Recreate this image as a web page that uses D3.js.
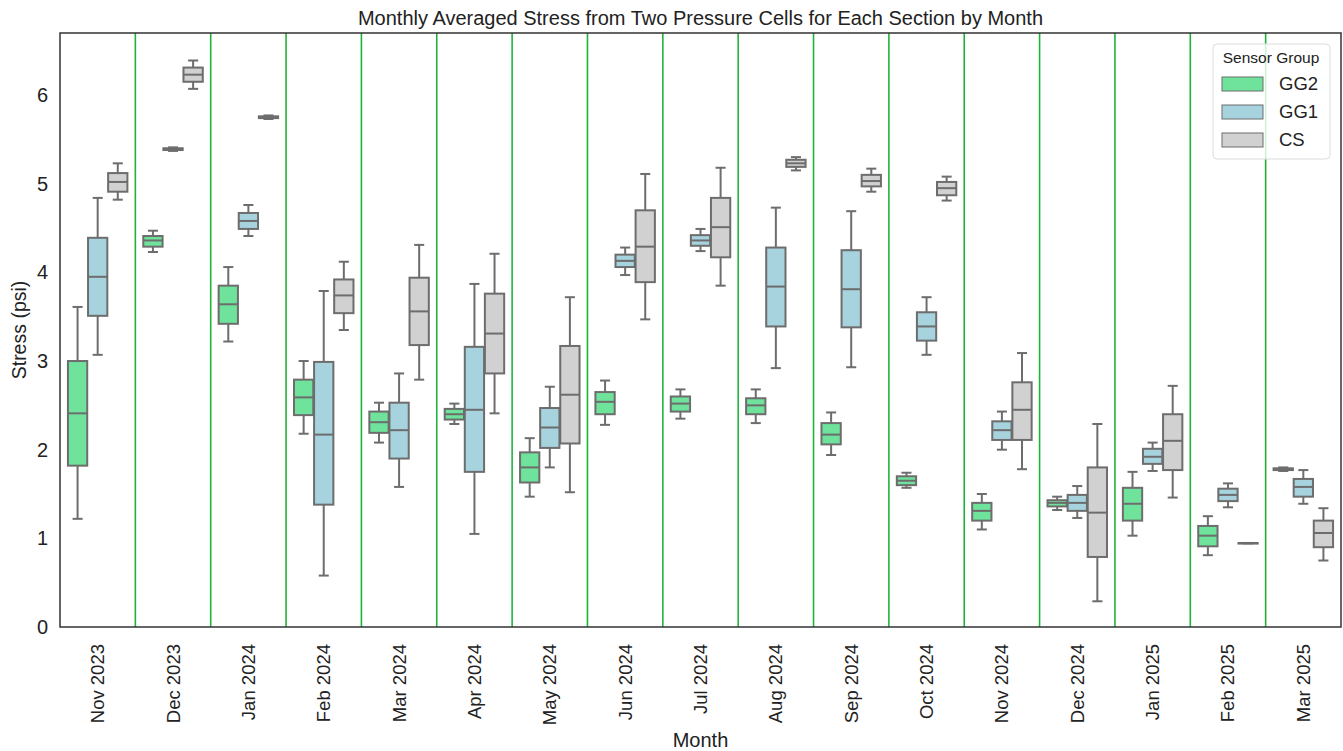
<!DOCTYPE html>
<html>
<head>
<meta charset="utf-8">
<script src="https://cdn.jsdelivr.net/npm/d3@7"></script>
<style>
  body { margin: 0; background: #fff; }
  text { font-family: "Liberation Sans", Arial, sans-serif; fill: #222; }
</style>
</head>
<body>
<div id="chart"></div>
<script>
// months on the x axis
const months = ["Nov 2023", "Dec 2023", "Jan 2024", "Feb 2024", "Mar 2024", "Apr 2024",
  "May 2024", "Jun 2024", "Jul 2024", "Aug 2024", "Sep 2024", "Oct 2024",
  "Nov 2024", "Dec 2024", "Jan 2025", "Feb 2025", "Mar 2025"];

const groups = ["GG2", "GG1", "CS"];

// [lower whisker, q1, median, q3, upper whisker] per month
const gg2Stats = [
  [1.22, 1.82, 2.41, 3.00, 3.61],
  [4.23, 4.29, 4.36, 4.41, 4.47],
  [3.22, 3.42, 3.64, 3.85, 4.06],
  [2.18, 2.39, 2.59, 2.79, 3.00],
  [2.08, 2.19, 2.31, 2.43, 2.53],
  [2.29, 2.34, 2.40, 2.46, 2.52],
  [1.47, 1.63, 1.80, 1.97, 2.13],
  [2.28, 2.40, 2.54, 2.65, 2.78],
  [2.35, 2.43, 2.52, 2.60, 2.68],
  [2.30, 2.40, 2.50, 2.58, 2.68],
  [1.94, 2.06, 2.17, 2.30, 2.42],
  [1.57, 1.60, 1.65, 1.70, 1.74],
  [1.10, 1.20, 1.31, 1.40, 1.50],
  [1.32, 1.36, 1.40, 1.43, 1.47],
  [1.03, 1.20, 1.39, 1.57, 1.75],
  [0.81, 0.91, 1.03, 1.14, 1.25],
  [1.76, 1.77, 1.78, 1.79, 1.80]
];

const gg1Stats = [
  [3.07, 3.51, 3.95, 4.39, 4.84],
  [5.37, 5.38, 5.39, 5.40, 5.41],
  [4.41, 4.49, 4.58, 4.67, 4.76],
  [0.58, 1.38, 2.17, 2.99, 3.79],
  [1.58, 1.90, 2.22, 2.53, 2.86],
  [1.05, 1.75, 2.45, 3.16, 3.87],
  [1.80, 2.02, 2.25, 2.47, 2.71],
  [3.97, 4.06, 4.13, 4.20, 4.28],
  [4.24, 4.30, 4.36, 4.42, 4.49],
  [2.92, 3.39, 3.84, 4.28, 4.73],
  [2.93, 3.38, 3.81, 4.25, 4.69],
  [3.07, 3.23, 3.39, 3.55, 3.72],
  [2.00, 2.11, 2.22, 2.32, 2.43],
  [1.23, 1.31, 1.40, 1.49, 1.59],
  [1.76, 1.84, 1.92, 2.01, 2.08],
  [1.35, 1.42, 1.49, 1.56, 1.62],
  [1.39, 1.47, 1.58, 1.67, 1.77]
];

const csStats = [
  [4.82, 4.91, 5.02, 5.12, 5.23],
  [6.07, 6.15, 6.23, 6.31, 6.39],
  [5.73, 5.74, 5.75, 5.76, 5.77],
  [3.35, 3.54, 3.74, 3.92, 4.12],
  [2.79, 3.18, 3.56, 3.94, 4.31],
  [2.41, 2.86, 3.31, 3.76, 4.21],
  [1.52, 2.07, 2.62, 3.17, 3.72],
  [3.47, 3.89, 4.29, 4.70, 5.11],
  [3.85, 4.17, 4.51, 4.84, 5.18],
  [5.15, 5.19, 5.23, 5.27, 5.30],
  [4.91, 4.97, 5.03, 5.10, 5.17],
  [4.81, 4.87, 4.95, 5.02, 5.08],
  [1.78, 2.11, 2.45, 2.76, 3.09],
  [0.29, 0.79, 1.29, 1.80, 2.29],
  [1.46, 1.77, 2.10, 2.40, 2.72],
  [0.944, 0.945, 0.946, 0.947, 0.948],
  [0.75, 0.90, 1.06, 1.20, 1.34]
];

const groupStats = { GG2: gg2Stats, GG1: gg1Stats, CS: csStats };
const colors = { GG2: "#6fe39b", GG1: "#a6d3de", CS: "#d1d1d1" };
const edge = "#6d6d6d";

const svgWidth = 1343, svgHeight = 751;
const margin = { top: 33, right: 2, bottom: 124, left: 60 };
const width = svgWidth - margin.left - margin.right;
const height = svgHeight - margin.top - margin.bottom;

const svg = d3.select("#chart").append("svg")
  .attr("width", svgWidth)
  .attr("height", svgHeight);

const g = svg.append("g")
  .attr("transform", `translate(${margin.left},${margin.top})`);

const x = d3.scaleBand().domain(months).range([0, width]).padding(0);
const hue = d3.scaleBand().domain(groups).range([0, x.bandwidth() * 0.8]).padding(0);
const y = d3.scaleLinear().domain([0, 6.7]).range([height, 0]);

// month separators
g.selectAll(".sep")
  .data(months.slice(1))
  .enter().append("line")
  .attr("x1", d => x(d)).attr("x2", d => x(d))
  .attr("y1", 0).attr("y2", height)
  .attr("stroke", "#1fb33c")
  .attr("stroke-width", 1.6);

// boxes
const rows = [];
months.forEach((m, i) => {
  groups.forEach(k => {
    const s = groupStats[k][i];
    rows.push({ month: m, group: k, lo: s[0], q1: s[1], med: s[2], q3: s[3], hi: s[4] });
  });
});

const boxW = hue.bandwidth() * 0.96;
const capW = hue.bandwidth() * 0.5;

const boxes = g.selectAll(".box")
  .data(rows)
  .enter().append("g")
  .attr("transform", d => `translate(${x(d.month) + x.bandwidth() * 0.1 + hue(d.group) + hue.bandwidth() / 2},0)`);

boxes.append("line")
  .attr("x1", 0).attr("x2", 0)
  .attr("y1", d => y(d.hi)).attr("y2", d => y(d.q3))
  .attr("stroke", edge).attr("stroke-width", 2);
boxes.append("line")
  .attr("x1", 0).attr("x2", 0)
  .attr("y1", d => y(d.q1)).attr("y2", d => y(d.lo))
  .attr("stroke", edge).attr("stroke-width", 2);
boxes.append("line")
  .attr("x1", -capW / 2).attr("x2", capW / 2)
  .attr("y1", d => y(d.hi)).attr("y2", d => y(d.hi))
  .attr("stroke", edge).attr("stroke-width", 2);
boxes.append("line")
  .attr("x1", -capW / 2).attr("x2", capW / 2)
  .attr("y1", d => y(d.lo)).attr("y2", d => y(d.lo))
  .attr("stroke", edge).attr("stroke-width", 2);
boxes.append("rect")
  .attr("x", -boxW / 2)
  .attr("width", boxW)
  .attr("y", d => y(d.q3))
  .attr("height", d => Math.max(0.5, y(d.q1) - y(d.q3)))
  .attr("fill", d => colors[d.group])
  .attr("stroke", edge).attr("stroke-width", 2);
boxes.append("line")
  .attr("x1", -boxW / 2).attr("x2", boxW / 2)
  .attr("y1", d => y(d.med)).attr("y2", d => y(d.med))
  .attr("stroke", edge).attr("stroke-width", 2);

// axes
const yAxis = g.append("g").call(d3.axisLeft(y).ticks(7).tickSize(0).tickPadding(12));
yAxis.select(".domain").remove();
yAxis.selectAll("text").style("font-size", "20px").attr("fill", "#222");

const xAxis = g.append("g")
  .attr("transform", `translate(0,${height})`)
  .call(d3.axisBottom(x).tickSize(0));
xAxis.select(".domain").remove();
xAxis.selectAll("text")
  .style("font-size", "18.5px")
  .attr("fill", "#222")
  .attr("transform", "rotate(-90)")
  .attr("text-anchor", "end")
  .attr("x", -17)
  .attr("y", 0)
  .attr("dy", "0.35em");

// frame
g.append("rect")
  .attr("width", width).attr("height", height)
  .attr("fill", "none").attr("stroke", "#333").attr("stroke-width", 1.5);

// title and labels
svg.append("text")
  .attr("x", margin.left + width / 2).attr("y", 25)
  .attr("text-anchor", "middle")
  .style("font-size", "20px")
  .text("Monthly Averaged Stress from Two Pressure Cells for Each Section by Month");

svg.append("text")
  .attr("x", margin.left + width / 2).attr("y", 747)
  .attr("text-anchor", "middle")
  .style("font-size", "20px")
  .text("Month");

svg.append("text")
  .attr("transform", `translate(26,${margin.top + height / 2}) rotate(-90)`)
  .attr("text-anchor", "middle")
  .style("font-size", "19.5px")
  .text("Stress (psi)");

// legend
const legend = svg.append("g").attr("transform", "translate(1213,44)");
legend.append("rect")
  .attr("width", 117).attr("height", 115).attr("rx", 4)
  .attr("fill", "#fff").attr("fill-opacity", 0.8)
  .attr("stroke", "#dcdcdc");
legend.append("text")
  .attr("x", 58).attr("y", 19)
  .attr("text-anchor", "middle")
  .style("font-size", "15.5px")
  .text("Sensor Group");
groups.forEach((k, i) => {
  legend.append("rect")
    .attr("x", 9).attr("y", 33 + i * 28)
    .attr("width", 41).attr("height", 14)
    .attr("fill", colors[k]).attr("stroke", edge).attr("stroke-width", 1);
  legend.append("text")
    .attr("x", 66).attr("y", 40 + i * 28)
    .attr("dy", "0.35em")
    .style("font-size", "18.5px")
    .text(k);
});
</script>
</body>
</html>
